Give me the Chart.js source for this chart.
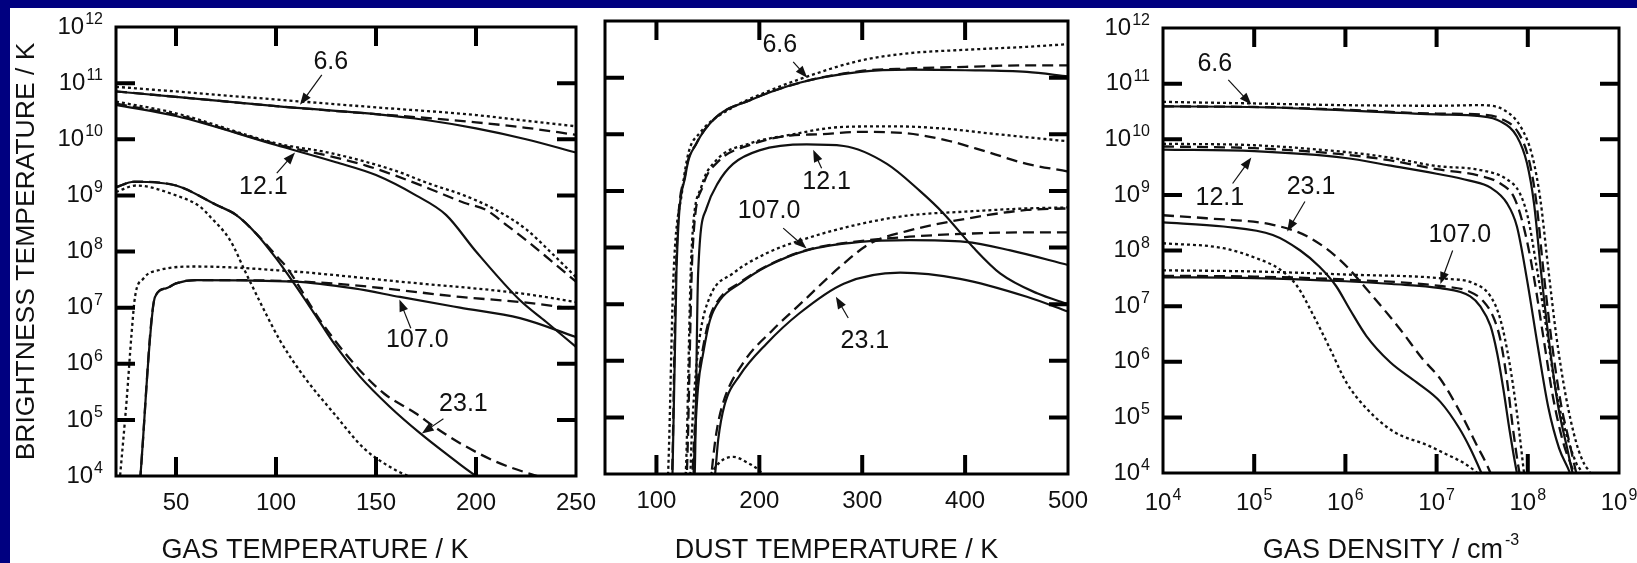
<!DOCTYPE html>
<html>
<head>
<meta charset="utf-8">
<script src="https://cdn.jsdelivr.net/npm/chart.js@4.4.1/dist/chart.umd.min.js"></script>
<style>
  html, body { margin: 0; padding: 0; background: #fff; }
  #page { position: relative; width: 1637px; height: 563px; background: #fff; overflow: hidden; }
  #page .bar { position: absolute; background: #000080; }
  canvas { position: absolute; top: 0; }
</style>
</head>
<body>
<div id="page">
  <div class="bar" style="left:0;top:0;width:1637px;height:8px"></div>
  <div class="bar" style="left:0;top:0;width:10px;height:563px"></div>
  <canvas id="gasTemp" width="620" height="563" style="left:0px"></canvas>
  <canvas id="dustTemp" width="515" height="563" style="left:585px"></canvas>
  <canvas id="gasDens" width="557" height="563" style="left:1080px"></canvas>
</div>
<script>
// Brightness temperature (K) of the 6.6, 12.1, 23.1 and 107.0 GHz lines.
// Each curve is a list of [x, T_B] points; solid / dashed / dotted are three model variants.

// --- against gas temperature (K)
const gasT66Solid  = [[20, 7.1e10], [50, 5.7e10], [100, 3.9e10], [150, 2.8e10], [175, 2.2e10], [200, 1.56e10], [225, 1.0e10], [250, 5.8e9]];
const gasT66Dash   = [[20, 7.1e10], [50, 5.7e10], [100, 3.9e10], [150, 2.8e10], [175, 2.4e10], [200, 2.0e10], [225, 1.6e10], [250, 1.2e10]];
const gasT66Dot    = [[20, 8.6e10], [50, 7.1e10], [100, 5.1e10], [150, 3.7e10], [200, 2.7e10], [222, 2.2e10], [250, 1.7e10]];
const gasT121Solid = [[20, 4.1e10], [50, 2.6e10], [100, 7.9e9], [130, 3.9e9], [150, 2.3e9], [170, 1.0e9], [185, 4.5e8], [200, 1.0e8], [222, 1.35e7], [235, 5.6e6], [250, 2.0e6]];
const gasT121Dash  = [[20, 4.3e10], [50, 2.7e10], [100, 8.2e9], [128, 4.9e9], [145, 3.4e9], [159, 2.3e9], [177, 1.3e9], [194, 7.4e8], [205, 5.5e8], [215, 3.0e8], [225, 1.6e8], [237, 7.1e7], [250, 2.9e7]];
const gasT121Dot   = [[20, 4.7e10], [50, 2.9e10], [100, 8.5e9], [128, 5.6e9], [159, 2.8e9], [177, 1.6e9], [194, 1.0e9], [210, 5.5e8], [225, 2.5e8], [237, 1.0e8], [250, 3.5e7]];
const gasT231Solid = [[20, 1.4e9], [29, 1.75e9], [50, 1.5e9], [70, 6.8e8], [80, 4.5e8], [90, 2.1e8], [100, 7.6e7], [109, 2.7e7], [119, 8.0e6], [129, 2.3e6], [142, 5.9e5], [157, 1.7e5], [172, 5.8e4], [185, 2.5e4], [200, 1.0e4], [205, 8e3]];
const gasT231Dash  = [[20, 1.4e9], [29, 1.75e9], [50, 1.5e9], [70, 6.8e8], [80, 4.5e8], [90, 2.1e8], [100, 8.5e7], [105, 5.4e7], [122, 6.0e6], [139, 1.0e6], [154, 2.95e5], [170, 1.3e5], [179, 7.6e4], [194, 3.5e4], [210, 1.8e4], [225, 1.15e4], [240, 8e3]];
const gasT231Dot   = [[20, 1.15e9], [30, 1.5e9], [50, 1.0e9], [62, 6.3e8], [67, 4.2e8], [77, 1.6e8], [85, 4.1e7], [94, 9.1e6], [102, 2.6e6], [114, 5.9e5], [129, 1.3e5], [144, 3.1e4], [155, 1.6e4], [166, 1.0e4], [170, 9e3]];
const gasT107Solid = [[32, 8e3], [39.5, 1.55e7], [45, 2.2e7], [50, 2.7e7], [60, 3.1e7], [109, 2.9e7], [139, 2.2e7], [162, 1.55e7], [192, 1.0e7], [222, 6.5e6], [250, 3.0e6]];
const gasT107Dash  = [[32, 8e3], [39.5, 1.55e7], [45, 2.2e7], [50, 2.7e7], [60, 3.1e7], [109, 2.95e7], [139, 2.5e7], [162, 2.05e7], [192, 1.55e7], [222, 1.26e7], [250, 9.5e6]];
const gasT107Dot   = [[21.8, 8e3], [25.3, 2.2e5], [27.8, 3.5e6], [29.5, 1.55e7], [33.7, 3.3e7], [42, 4.7e7], [60, 5.4e7], [109, 4.4e7], [162, 2.9e7], [222, 1.8e7], [250, 1.26e7]];

// --- against dust temperature (K)
const dustT66Solid  = [[114.5, 6e3], [115.6, 1e4], [119.5, 4e7], [128.5, 2.0e9], [139, 6.9e9], [158, 2.0e10], [191, 4.0e10], [240, 8.2e10], [298, 1.26e11], [346, 1.38e11], [400, 1.35e11], [460, 1.26e11], [500, 1.05e11]];
const dustT66Dash   = [[114, 6e3], [115.2, 1e4], [119, 4e7], [128, 2.0e9], [139, 7.0e9], [158, 2.0e10], [191, 4.0e10], [240, 8.2e10], [298, 1.3e11], [346, 1.45e11], [400, 1.55e11], [460, 1.65e11], [500, 1.65e11]];
const dustT66Dot    = [[110, 6e3], [111.3, 1e4], [116.5, 3e7], [125, 1.0e9], [131, 4.6e9], [142, 1.05e10], [174.5, 3.0e10], [207, 5.6e10], [240, 9.5e10], [298, 2.0e11], [346, 2.7e11], [400, 3.1e11], [460, 3.5e11], [500, 3.9e11]];
const dustT121Solid = [[136, 6e3], [137.2, 1e4], [140.5, 3.5e7], [148.6, 4.9e8], [160, 1.4e9], [174.5, 3.0e9], [200, 5.2e9], [246, 6.6e9], [282, 6.2e9], [324, 3.0e9], [356, 1.0e9], [379, 4.0e8], [408, 1.0e8], [434, 3.5e7], [470, 1.55e7], [500, 1.0e7]];
const dustT121Dash  = [[128, 6e3], [129.5, 1e4], [135, 8e7], [145, 1.2e9], [160, 3.3e9], [191, 6.5e9], [230, 9.5e9], [259, 1.0e10], [298, 1.1e10], [340, 1.05e10], [382, 7.8e9], [421, 4.9e9], [460, 3.0e9], [500, 2.2e9]];
const dustT121Dot   = [[127, 6e3], [128.5, 1e4], [134, 8e7], [143.8, 1.2e9], [158.4, 3.5e9], [190.8, 6.9e9], [226.5, 9.5e9], [282, 1.35e10], [330, 1.38e10], [379, 1.26e10], [427, 1.02e10], [500, 7.5e9]];
const dustT231Solid = [[155, 6e3], [157, 1e4], [160, 4e4], [166, 1.6e5], [181, 5.5e5], [207, 2.0e6], [239, 6.9e6], [282, 2.3e7], [337, 3.6e7], [395, 2.8e7], [460, 1.35e7], [500, 7.4e6]];
const dustT231Dash  = [[152.5, 6e3], [153.5, 1e4], [158, 5e4], [164.8, 1.8e5], [184, 9e5], [213, 3.5e6], [237, 9e6], [282, 5.2e7], [307.5, 1.17e8], [346, 2.0e8], [400, 3.2e8], [460, 4.6e8], [500, 4.9e8]];
const dustT231Dot   = [[145, 5e3], [155, 1.15e4], [165, 1.8e4], [175, 2.0e4], [188, 1.6e4], [200, 1.15e4], [210, 7e3]];
const dustT107Solid = [[135, 6e3], [136, 1e4], [137.2, 3.5e4], [140.5, 3.5e5], [145.4, 1.35e6], [152, 5.2e6], [162, 1.2e7], [181, 2.3e7], [207, 4.6e7], [246, 8.9e7], [298, 1.26e8], [346, 1.35e8], [400, 1.26e8], [444, 8.9e7], [500, 4.9e7]];
const dustT107Dash  = [[134, 6e3], [135, 1e4], [136.5, 3.5e4], [140, 4e5], [145, 1.6e6], [152, 6e6], [162, 1.3e7], [181, 2.4e7], [207, 4.7e7], [246, 9e7], [298, 1.3e8], [346, 1.55e8], [400, 1.75e8], [460, 1.85e8], [500, 1.85e8]];
const dustT107Dot   = [[132, 6e3], [133, 1e4], [134, 3.5e4], [137.2, 3.5e5], [142, 2.6e6], [152, 1.35e7], [174.5, 3.5e7], [207, 7.9e7], [246, 1.45e8], [298, 2.6e8], [346, 3.7e8], [400, 4.3e8], [460, 4.9e8], [500, 5.1e8]];

// --- against gas density (cm^-3)
const dens66Solid  = [[1e4, 3.9e10], [1e5, 3.8e10], [1e6, 3.3e10], [1e7, 2.8e10], [3.0e7, 2.6e10], [5.0e7, 2.1e10], [7.6e7, 1.12e10], [9.8e7, 3.7e9], [1.17e8, 7.0e8], [1.4e8, 4.0e7], [1.7e8, 2.5e6], [2.15e8, 1.6e5], [2.7e8, 2.8e4], [3.1e8, 1.0e4], [3.4e8, 6e3]];
const dens66Dash   = [[1e4, 3.9e10], [1e5, 3.8e10], [1e6, 3.4e10], [1e7, 2.9e10], [3.0e7, 2.8e10], [5.2e7, 2.3e10], [7.9e7, 1.3e10], [1.02e8, 4.5e9], [1.24e8, 7.5e8], [1.48e8, 4.5e7], [1.8e8, 2.8e6], [2.3e8, 1.8e5], [2.9e8, 3.2e4], [3.4e8, 1.0e4], [3.7e8, 6e3]];
const dens66Dot    = [[1e4, 4.7e10], [1e5, 4.4e10], [1e6, 4.1e10], [1e7, 4.0e10], [3.0e7, 4.1e10], [5.6e7, 3.3e10], [8.5e7, 1.6e10], [1.12e8, 5.0e9], [1.37e8, 8.5e8], [1.66e8, 5.5e7], [2.05e8, 3.0e6], [2.6e8, 2.5e5], [3.4e8, 3.5e4], [4.2e8, 1.4e4], [4.8e8, 1.0e4], [5.1e8, 7e3]];
const dens121Solid = [[1e4, 6.5e9], [1e5, 6.1e9], [1e6, 4.6e9], [3.0e6, 3.4e9], [1e7, 2.4e9], [2.3e7, 1.8e9], [3.9e7, 1.35e9], [5.9e7, 7.1e8], [7.6e7, 2.7e8], [9.8e7, 3.0e7], [1.28e8, 2.0e6], [1.68e8, 1.5e5], [2.2e8, 2.8e4], [2.9e8, 1.0e4], [3.1e8, 7e3]];
const dens121Dash  = [[1e4, 7.4e9], [1e5, 6.9e9], [1e6, 5.3e9], [3.0e6, 4.2e9], [1e7, 2.9e9], [3.0e7, 2.2e9], [5.0e7, 1.6e9], [7.1e7, 8.9e8], [9.1e7, 2.5e8], [1.16e8, 3.5e7], [1.48e8, 2.8e6], [1.9e8, 2.2e5], [2.45e8, 3.5e4], [3.2e8, 1.0e4], [3.5e8, 6e3]];
const dens121Dot   = [[1e4, 8.3e9], [1e5, 7.8e9], [1e6, 5.9e9], [3.0e6, 4.7e9], [1e7, 3.3e9], [3.0e7, 2.8e9], [5.9e7, 1.9e9], [8.1e7, 1.1e9], [1.0e8, 4.0e8], [1.24e8, 5.5e7], [1.58e8, 4.5e6], [2.0e8, 3.5e5], [2.6e8, 5.5e4], [3.4e8, 1.5e4], [3.9e8, 1.0e4], [4.1e8, 7e3]];
const dens231Solid = [[1e4, 3.2e8], [4.6e4, 2.7e8], [1.6e5, 1.9e8], [3.2e5, 1.0e8], [5.2e5, 5.1e7], [7.9e5, 2.3e7], [1.12e6, 8.7e6], [1.7e6, 2.9e6], [3.1e6, 9.8e5], [6.0e6, 4.3e5], [1.1e7, 1.9e5], [1.78e7, 6.3e4], [2.34e7, 2.75e4], [3.1e7, 1.0e4], [3.4e7, 7e3]];
const dens231Dash  = [[1e4, 4.3e8], [3.0e4, 3.8e8], [1.6e5, 2.9e8], [3.8e5, 1.8e8], [8.7e5, 6.8e7], [2.0e6, 1.5e7], [4.0e6, 3.8e6], [7.1e6, 1.1e6], [1.1e7, 4.9e5], [1.8e7, 1.26e5], [2.75e7, 3.2e4], [3.9e7, 1.0e4], [4.2e7, 7e3]];
const dens231Dot   = [[1e4, 1.35e8], [4.6e4, 1.1e8], [1.07e5, 7.2e7], [1.9e5, 4.6e7], [2.95e5, 2.3e7], [4.5e5, 6.6e6], [6.8e5, 1.7e6], [1.02e6, 4.3e5], [1.7e6, 1.45e5], [3.4e6, 5.5e4], [7.8e6, 3.2e4], [1.26e7, 2.2e4], [2.0e7, 1.5e4], [2.8e7, 1.0e4], [3.2e7, 8e3]];
const dens107Solid = [[1e4, 3.3e7], [1e5, 3.2e7], [1e6, 2.8e7], [3.2e6, 2.5e7], [1.1e7, 2.1e7], [2.34e7, 1.5e7], [3.0e7, 1.0e7], [3.9e7, 4.4e6], [4.6e7, 1.45e6], [5.4e7, 3.2e5], [6.3e7, 6.0e4], [7.6e7, 1.0e4], [8.0e7, 7e3]];
const dens107Dash  = [[1e4, 3.5e7], [1e5, 3.4e7], [1e6, 3.0e7], [1.1e7, 2.3e7], [2.34e7, 1.8e7], [3.2e7, 1.26e7], [4.2e7, 6.3e6], [5.0e7, 2.5e6], [5.9e7, 4.8e5], [6.9e7, 6.0e4], [8.1e7, 1.0e4], [8.5e7, 7e3]];
const dens107Dot   = [[1e4, 4.4e7], [1e5, 4.2e7], [1e6, 3.7e7], [1.3e7, 3.1e7], [2.5e7, 2.6e7], [3.9e7, 1.5e7], [5.0e7, 5.8e6], [6.3e7, 9.5e5], [7.6e7, 1.2e5], [8.5e7, 2.6e4], [9.1e7, 1.0e4], [9.5e7, 7e3]];

// axis ticks and labels
const tbDecades   = [1e4, 1e5, 1e6, 1e7, 1e8, 1e9, 1e10, 1e11, 1e12];
const tbPowers    = [4, 5, 6, 7, 8, 9, 10, 11, 12];
const gasTTicks   = [50, 100, 150, 200, 250];
const dustTTicks  = [100, 200, 300, 400, 500];
const densTicks   = [1e4, 1e5, 1e6, 1e7, 1e8, 1e9];
const densPowers  = [4, 5, 6, 7, 8, 9];

// line labels: text position, arrow tail, arrow head (data coordinates)
const gasTNotes = [
  { text: '6.6',   at: [127.4, 2.4e11], from: [122.9, 1.4e11], to: [112, 4.1e10] },
  { text: '12.1',  at: [93.7, 1.4e9],   from: [100.4, 2.5e9],  to: [109.5, 5.8e9] },
  { text: '107.0', at: [170.7, 2.6e6],  from: [167.4, 4.3e6],  to: [161.7, 1.4e7] },
  { text: '23.1',  at: [193.7, 1.9e5],  from: [183.7, 1.05e5], to: [172.9, 5.7e4] }
];
const dustTNotes = [
  { text: '6.6',   at: [219.9, 3.7e11], from: [232.9, 1.9e11], to: [246.5, 1.0e11] },
  { text: '12.1',  at: [265.4, 1.45e9], from: [260.5, 2.5e9],  to: [252.3, 5.3e9] },
  { text: '107.0', at: [209.5, 4.4e8],  from: [223.2, 2.2e8],  to: [245.9, 9.6e7] },
  { text: '23.1',  at: [302.6, 2.2e6],  from: [286.4, 5.7e6],  to: [274.4, 1.35e7] }
];
const densNotes = [
  { text: '6.6',   at: [3.7e4, 2.2e11], from: [5.2e4, 1.17e11], to: [9.3e4, 4.2e10] },
  { text: '12.1',  at: [4.2e4, 8.7e8],  from: [5.8e4, 1.6e9],   to: [9.3e4, 4.7e9] },
  { text: '23.1',  at: [4.2e5, 1.4e9],  from: [3.6e5, 7.6e8],   to: [2.3e5, 2.2e8] },
  { text: '107.0', at: [1.8e7, 1.9e8],  from: [1.5e7, 1.0e8],   to: [1.1e7, 2.5e7] }
];

const FONT = '"Liberation Sans", Arial, Helvetica, sans-serif';
const INK = '#111';
const DASHES = { solid: [], dashed: [11, 6], dotted: [3, 3] };

function line(points, kind) {
  return {
    data: points.map(([x, y]) => ({ x, y })),
    borderColor: INK,
    borderWidth: kind === 'solid' ? 2.2 : 2.3,
    borderDash: DASHES[kind],
    pointRadius: 0,
    cubicInterpolationMode: 'monotone',
    fill: false,
    clip: 1
  };
}

// "10" with a raised exponent
function powText(ctx, x, y, exp, align) {
  ctx.font = `24px ${FONT}`;
  const wBase = ctx.measureText('10').width;
  ctx.font = `16px ${FONT}`;
  const wExp = ctx.measureText(String(exp)).width;
  const total = wBase + 1 + wExp;
  const x0 = align === 'right' ? x - total : x - total / 2;
  ctx.textAlign = 'left';
  ctx.font = `24px ${FONT}`;
  ctx.textBaseline = 'middle';
  ctx.fillText('10', x0, y);
  ctx.font = `16px ${FONT}`;
  ctx.textBaseline = 'alphabetic';
  ctx.fillText(String(exp), x0 + wBase + 1, y - 3);
}

function arrow(ctx, x1, y1, x2, y2) {
  const ang = Math.atan2(y2 - y1, x2 - x1);
  const len = 12, half = 4.5;
  ctx.lineWidth = 1.2;
  ctx.beginPath();
  ctx.moveTo(x1, y1);
  ctx.lineTo(x2 - Math.cos(ang) * len * 0.8, y2 - Math.sin(ang) * len * 0.8);
  ctx.stroke();
  ctx.beginPath();
  ctx.moveTo(x2, y2);
  ctx.lineTo(x2 - Math.cos(ang) * len - Math.sin(ang) * half, y2 - Math.sin(ang) * len + Math.cos(ang) * half);
  ctx.lineTo(x2 - Math.cos(ang) * len + Math.sin(ang) * half, y2 - Math.sin(ang) * len - Math.cos(ang) * half);
  ctx.closePath();
  ctx.fill();
}

const TICK = 19;
const TITLE_Y = 551;

const framePlugin = {
  id: 'frame',
  afterDraw(chart, args, o) {
    const { ctx, chartArea: a } = chart;
    const xs = chart.scales.x, ys = chart.scales.y;
    ctx.save();
    ctx.strokeStyle = '#000';
    ctx.fillStyle = INK;

    // box
    ctx.lineWidth = 3;
    ctx.strokeRect(a.left, a.top, a.right - a.left, a.bottom - a.top);

    // inward ticks on all four sides
    ctx.lineWidth = 4;
    ctx.beginPath();
    o.xTicks.forEach(v => {
      const px = xs.getPixelForValue(v);
      if (px < a.left + 2 || px > a.right - 2) return;
      ctx.moveTo(px, a.bottom); ctx.lineTo(px, a.bottom - TICK);
      ctx.moveTo(px, a.top); ctx.lineTo(px, a.top + TICK);
    });
    tbDecades.forEach(v => {
      const py = ys.getPixelForValue(v);
      if (py < a.top + 2 || py > a.bottom - 2) return;
      ctx.moveTo(a.left, py); ctx.lineTo(a.left + TICK, py);
      ctx.moveTo(a.right, py); ctx.lineTo(a.right - TICK, py);
    });
    ctx.stroke();

    // tick labels
    if (o.yLabels) {
      tbDecades.forEach((v, i) => powText(ctx, a.left - 13, ys.getPixelForValue(v), tbPowers[i], 'right'));
    }
    const labelY = a.bottom + 27;
    if (o.xPowers) {
      o.xTicks.forEach((v, i) => powText(ctx, xs.getPixelForValue(v), labelY + 3, o.xPowers[i], 'center'));
    } else {
      ctx.font = `24px ${FONT}`;
      ctx.textAlign = 'center';
      ctx.textBaseline = 'middle';
      o.xTicks.forEach(v => ctx.fillText(String(v), xs.getPixelForValue(v), labelY));
    }

    // axis titles
    ctx.font = `27px ${FONT}`;
    ctx.textBaseline = 'middle';
    const cx = (a.left + a.right) / 2 + (o.titleShift || 0);
    if (o.titleSup) {
      const w = ctx.measureText(o.title).width;
      ctx.font = `16px ${FONT}`;
      const ws = ctx.measureText(o.titleSup).width;
      const x0 = cx - (w + ws + 2) / 2;
      ctx.font = `27px ${FONT}`;
      ctx.textAlign = 'left';
      ctx.fillText(o.title, x0, TITLE_Y);
      ctx.font = `16px ${FONT}`;
      ctx.textBaseline = 'alphabetic';
      ctx.fillText(o.titleSup, x0 + w + 2, TITLE_Y - 6);
    } else {
      ctx.textAlign = 'center';
      ctx.fillText(o.title, cx, TITLE_Y);
    }
    if (o.yTitle) {
      ctx.save();
      ctx.translate(27, (a.top + a.bottom) / 2);
      ctx.rotate(-Math.PI / 2);
      ctx.font = `26.5px ${FONT}`;
      ctx.textAlign = 'center';
      ctx.textBaseline = 'middle';
      ctx.fillText(o.yTitle, 0, 0);
      ctx.restore();
    }

    // line labels with arrows
    ctx.strokeStyle = INK;
    o.notes.forEach(n => {
      ctx.font = `25px ${FONT}`;
      ctx.textAlign = 'center';
      ctx.textBaseline = 'middle';
      ctx.fillText(n.text, xs.getPixelForValue(n.at[0]), ys.getPixelForValue(n.at[1]));
      arrow(ctx,
        xs.getPixelForValue(n.from[0]), ys.getPixelForValue(n.from[1]),
        xs.getPixelForValue(n.to[0]), ys.getPixelForValue(n.to[1]));
    });
    ctx.restore();
  }
};

function panel(id, xScale, padding, sets, frame) {
  return new Chart(document.getElementById(id), {
    type: 'line',
    data: { datasets: sets },
    options: {
      responsive: false,
      animation: false,
      devicePixelRatio: 1,
      layout: { padding },
      plugins: { legend: { display: false }, tooltip: { enabled: false }, frame },
      scales: {
        x: Object.assign({ display: false }, xScale),
        y: { type: 'logarithmic', min: 1e4, max: 1e12, display: false }
      }
    },
    plugins: [framePlugin]
  });
}

panel('gasTemp', { type: 'linear', min: 20, max: 250 },
  { left: 116, top: 27, right: 44, bottom: 87 },
  [
    line(gasT66Solid, 'solid'), line(gasT66Dash, 'dashed'), line(gasT66Dot, 'dotted'),
    line(gasT121Solid, 'solid'), line(gasT121Dash, 'dashed'), line(gasT121Dot, 'dotted'),
    line(gasT231Solid, 'solid'), line(gasT231Dash, 'dashed'), line(gasT231Dot, 'dotted'),
    line(gasT107Solid, 'solid'), line(gasT107Dash, 'dashed'), line(gasT107Dot, 'dotted')
  ],
  { xTicks: gasTTicks, yLabels: true, title: 'GAS TEMPERATURE / K', titleShift: -31,
    yTitle: 'BRIGHTNESS TEMPERATURE / K', notes: gasTNotes });

panel('dustTemp', { type: 'linear', min: 50, max: 500 },
  { left: 20, top: 21, right: 32, bottom: 89 },
  [
    line(dustT66Solid, 'solid'), line(dustT66Dash, 'dashed'), line(dustT66Dot, 'dotted'),
    line(dustT121Solid, 'solid'), line(dustT121Dash, 'dashed'), line(dustT121Dot, 'dotted'),
    line(dustT231Solid, 'solid'), line(dustT231Dash, 'dashed'), line(dustT231Dot, 'dotted'),
    line(dustT107Solid, 'solid'), line(dustT107Dash, 'dashed'), line(dustT107Dot, 'dotted')
  ],
  { xTicks: dustTTicks, yLabels: false, title: 'DUST TEMPERATURE / K', notes: dustTNotes });

panel('gasDens', { type: 'logarithmic', min: 1e4, max: 1e9 },
  { left: 83, top: 28, right: 18, bottom: 90 },
  [
    line(dens66Solid, 'solid'), line(dens66Dash, 'dashed'), line(dens66Dot, 'dotted'),
    line(dens121Solid, 'solid'), line(dens121Dash, 'dashed'), line(dens121Dot, 'dotted'),
    line(dens231Solid, 'solid'), line(dens231Dash, 'dashed'), line(dens231Dot, 'dotted'),
    line(dens107Solid, 'solid'), line(dens107Dash, 'dashed'), line(dens107Dot, 'dotted')
  ],
  { xTicks: densTicks, xPowers: densPowers, yLabels: true, title: 'GAS DENSITY / cm', titleSup: '-3', notes: densNotes });
</script>
</body>
</html>
